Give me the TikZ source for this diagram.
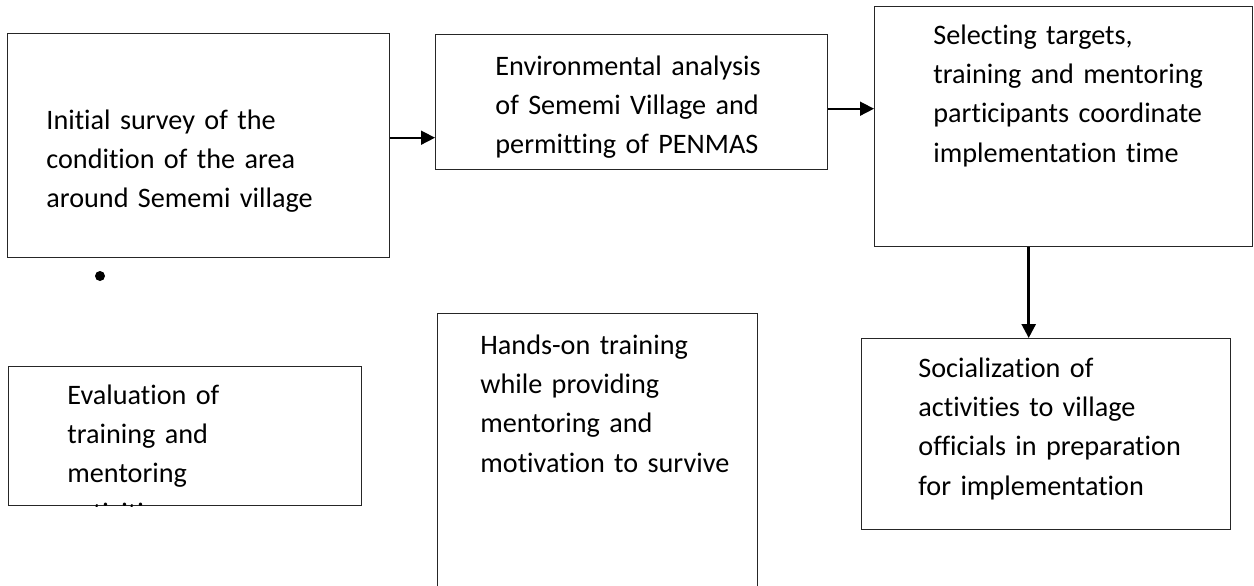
\documentclass[tikz,border=0pt]{standalone}
\usepackage{fontspec}
\setmainfont{Carlito}[Ligatures=NoCommon]
\usetikzlibrary{arrows.meta,positioning}

\begin{document}
\begin{tikzpicture}[x=0.5pt,y=-0.5pt,
  box/.style={draw=black!85, line width=0.7pt, rectangle, anchor=north west, inner sep=0pt},
  txt/.style={anchor=base west, inner sep=0pt, text width=190pt, align=left, font=\fontsize{14.1}{19.7}\selectfont},
  arr/.style={draw=black, line width=0.8pt, -{Triangle[length=7pt,width=7pt]}},
  dot/.style={circle, fill=black, inner sep=0pt, minimum size=5pt}]

\useasboundingbox (0,0) rectangle (1254,585);

\node[box, minimum width=191pt, minimum height=112pt] (survey) at (7,33) {};
\node[box, minimum width=196pt, minimum height=67.5pt] (envi) at (435,34) {};
\node[box, minimum width=189pt, minimum height=120pt] (select) at (874,6) {};
\node[box, minimum width=184.5pt, minimum height=95.5pt] (social) at (861,338) {};
\node[box, minimum width=176.5pt, minimum height=69.5pt] (eval) at (8,366) {};
\node[box, minimum width=160pt, minimum height=153.5pt] (hands) at (437,313) {};

\node[txt] (surveytxt) at (46,129) {Initial survey of the\\condition of the area\\around Sememi village};
\node[txt] (envitxt) at (495,75) {Environmental analysis\\of Sememi Village and\\permitting of PENMAS};
\node[txt] (selecttxt) at (933,44) {Selecting targets,\\training and mentoring\\participants coordinate\\implementation time};
\node[txt] (socialtxt) at (918,377) {Socialization of\\activities to village\\officials in preparation\\for implementation};
\node[txt] (handstxt) at (480,354) {Hands-on training\\while providing\\mentoring and\\motivation to survive};

\begin{scope}
\clip (eval.north west) rectangle (eval.south east);
\node[txt] (evaltxt) at (67,404) {Evaluation of\\training and\\mentoring\\activities};
\end{scope}

\node[dot] (bullet) at (100,276) {};

\coordinate (ab) at ([yshift=4pt]survey.east);
\coordinate (bc) at ([yshift=-3.25pt]envi.east);
\coordinate (cd) at ([xshift=-17.5pt]select.south);

\draw[arr] (ab) -- (ab -| envi.west);
\draw[arr] (bc) -- (bc -| select.west);
\draw[arr, line width=1.3pt] (cd) -- (cd |- social.north);
\end{tikzpicture}
\end{document}
